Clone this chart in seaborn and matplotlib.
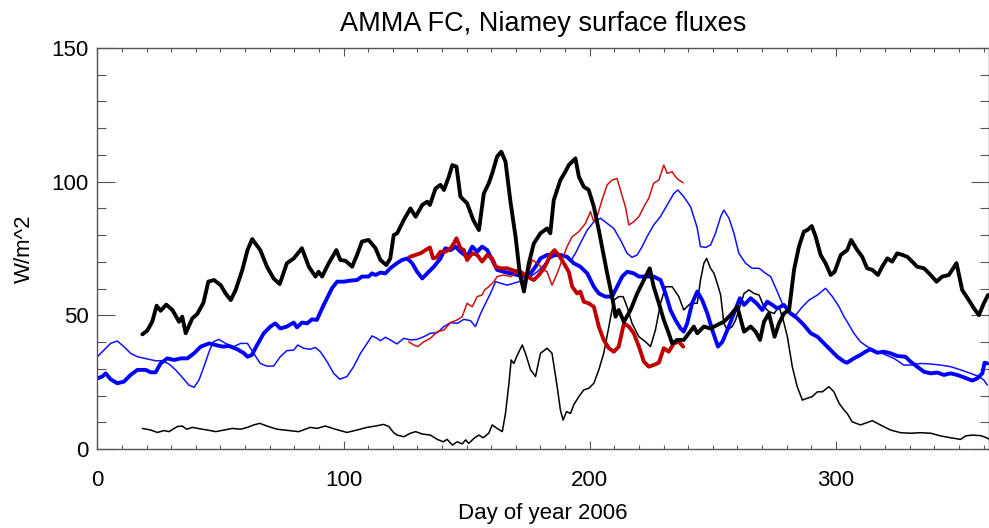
import matplotlib
matplotlib.use("Agg")
import matplotlib.pyplot as plt
from matplotlib.ticker import MultipleLocator
import seaborn as sns

# ---- series: (day of year, flux in W/m^2) ----
thick_black_day = [18.3, 20.3, 22.3, 24.1, 25.7, 28.0, 30.5, 33.2, 34.5, 35.9, 38.6, 40.6, 43.1, 45.1, 47.4,
                   50.1, 52.1, 54.2, 56.2, 58.9, 61.0, 62.9, 66.2, 68.9, 71.6, 74.1, 77.0, 79.8, 83.1, 85.9,
                   88.6, 89.9, 91.3, 94.0, 97.1, 98.7, 100.8, 103.5, 105.5, 107.5, 110.2, 113.0, 115.0, 117.4,
                   119.0, 120.4, 121.8, 124.5, 127.2, 129.3, 132.0, 134.0, 135.1, 137.4, 139.4, 140.8, 142.8,
                   144.2, 145.9, 147.5, 150.2, 152.7, 155.0, 157.0, 159.0, 160.4, 162.4, 164.1, 165.8, 167.9,
                   169.9, 171.6, 173.3, 175.3, 177.3, 180.0, 182.7, 184.0, 185.4, 188.1, 190.1, 191.5, 194.2,
                   195.6, 197.6, 199.6, 201.7, 203.7, 205.0, 207.1, 209.1, 210.5, 211.8, 213.9, 216.6, 219.3,
                   222.0, 224.4, 226.0, 228.1, 230.1, 232.1, 233.5, 235.5, 238.2, 240.3, 242.3, 243.7, 246.4,
                   249.1, 251.8, 254.5, 257.2, 260.0, 262.7, 265.4, 267.4, 269.2, 270.8, 272.8, 275.1, 276.9,
                   278.9, 281.0, 283.0, 285.0, 287.0, 288.4, 290.2, 291.8, 293.8, 295.8, 297.9, 299.5, 302.0,
                   304.6, 306.2, 308.7, 310.7, 312.7, 314.8, 317.1, 318.8, 320.9, 322.9, 324.9, 327.0, 329.0,
                   331.0, 333.0, 335.8, 338.5, 340.9, 343.2, 345.9, 349.0, 351.3, 354.0, 356.1, 358.1, 360.1,
                   361.8]
thick_black_val = [42.9, 44.3, 47.6, 53.6, 51.7, 54.0, 52.0, 47.6, 49.5, 43.3, 48.9, 50.5, 54.7, 62.6, 63.2,
                   61.3, 58.2, 55.7, 59.5, 67.0, 74.4, 78.5, 74.4, 68.2, 63.8, 61.7, 69.5, 71.3, 75.1, 68.2,
                   64.5, 66.3, 64.5, 69.5, 74.4, 70.7, 70.4, 68.2, 72.6, 77.6, 78.2, 75.1, 70.7, 68.8,
                   71.3, 80.0, 80.7, 85.7, 90.0, 86.9, 91.3, 92.5, 91.3, 97.5, 98.8, 96.9, 101.9,
                   106.2, 105.6, 94.4, 91.9, 85.7, 81.9, 95.6, 99.4, 103.1, 109.4, 111.2, 107.5, 91.9,
                   79.4, 65.7, 58.9, 69.5, 76.9, 80.7, 82.5, 80.7, 93.1, 100.6, 103.7, 106.2, 108.7,
                   101.9, 98.1, 96.9, 90.6, 81.9, 75.7, 65.7, 57.0, 49.5, 52.0, 47.6, 52.0, 58.2,
                   63.2, 67.6, 60.7, 54.5, 48.3, 43.3, 39.5, 40.8, 40.8, 43.3, 45.8, 43.3, 45.8,
                   45.1, 46.4, 47.6, 50.1, 53.2, 43.9, 45.8, 43.9, 40.8, 47.6, 50.7, 42.0, 47.0,
                   50.7, 52.0, 67.0, 75.7, 81.3, 81.9, 83.4, 79.4, 72.6, 69.5, 65.1, 66.3, 72.6,
                   74.4, 78.2, 74.4, 71.9, 67.6, 67.0, 65.1, 68.2, 71.3, 70.1, 73.2, 72.6, 71.9,
                   70.1, 68.2, 67.6, 65.1, 62.6, 64.5, 65.1, 69.5, 59.5, 55.7, 52.6, 50.1, 54.5,
                   57.6]

thin_black_day = [18.3, 21.7, 24.4, 27.1, 29.1, 32.5, 34.5, 36.3, 38.6, 42.0, 44.7, 48.1, 51.5, 54.9, 58.2,
                  61.0, 63.5, 66.0, 68.9, 73.0, 77.7, 81.8, 86.5, 89.2, 92.6, 96.7, 101.4, 105.5, 109.6,
                  113.0, 116.3, 118.4, 120.4, 121.8, 124.5, 127.2, 129.3, 132.0, 135.3, 138.1, 140.5, 142.1,
                  144.2, 146.2, 148.2, 149.6, 150.9, 153.0, 155.0, 156.7, 159.0, 160.4, 162.4, 164.5, 165.8,
                  167.2, 168.1, 169.2, 170.3, 172.6, 173.9, 176.0, 178.0, 180.0, 182.7, 184.7, 186.8, 188.1,
                  189.2, 190.6, 192.2, 193.5, 195.6, 197.6, 199.6, 201.7, 203.7, 205.7, 207.8, 209.8, 211.8,
                  213.6, 215.2, 217.2, 220.0, 222.7, 224.7, 226.7, 228.8, 230.8, 233.5, 236.2, 238.2, 241.0,
                  243.7, 245.0, 246.4, 247.5, 249.1, 250.5, 251.8, 253.2, 254.5, 255.9, 257.9, 259.3, 261.0,
                  262.7, 264.7, 266.7, 268.8, 270.8, 272.8, 274.9, 276.9, 278.6, 280.3, 282.3, 284.3, 286.4,
                  288.4, 290.4, 292.5, 294.5, 297.2, 299.2, 301.3, 303.3, 304.6, 306.6, 310.0, 312.7, 314.8,
                  318.1, 322.2, 326.3, 330.3, 334.4, 338.5, 342.5, 346.6, 350.7, 352.7, 355.4, 358.8, 360.8,
                  362.2]
thin_black_val = [7.7, 7.1, 6.2, 6.9, 6.5, 8.4, 8.6, 7.4, 8.1, 7.5, 7.1, 6.5, 7.1, 7.7, 7.4,
                  8.1, 9.0, 9.6, 8.6, 7.4, 6.9, 6.5, 8.1, 7.7, 8.6, 7.4, 6.2, 7.1, 8.1,
                  8.6, 9.2, 8.4, 6.1, 5.2, 4.6, 5.9, 6.5, 5.6, 5.2, 3.6, 2.7, 3.6,
                  1.5, 2.7, 1.9, 3.4, 2.1, 4.0, 5.2, 4.2, 5.9, 9.0, 7.7, 6.5, 13.3,
                  24.6, 33.3, 32.0, 34.5, 38.9, 35.8, 29.6, 27.1, 35.8, 37.7, 35.8, 23.3, 14.6,
                  10.8, 14.0, 13.3, 16.5, 19.6, 22.1, 22.7, 24.6, 29.6, 35.8, 45.8, 55.7, 57.0,
                  57.0, 53.2, 47.0, 42.0, 40.1, 38.3, 44.5, 54.5, 60.7, 60.7, 57.0, 52.0, 54.5,
                  54.5, 63.2, 69.5, 71.3, 67.6, 65.7, 62.0, 57.6, 47.0, 44.5, 45.8, 48.3, 53.2,
                  58.2, 59.5, 58.2, 57.6, 53.2, 51.4, 50.7, 53.2, 48.3, 42.0, 30.8, 23.3, 18.3,
                  19.0, 19.6, 21.4, 21.4, 23.3, 21.4, 17.1, 14.6, 13.3, 10.2, 9.0, 9.9, 10.6,
                  9.0, 7.1, 6.1, 5.9, 6.1, 5.9, 4.9, 4.2, 3.6, 4.9, 5.2, 5.0, 4.4,
                  3.7]

thick_blue_day = [0.0, 2.0, 3.4, 5.4, 8.1, 10.8, 13.5, 16.3, 19.6, 21.7, 23.7, 25.7, 28.4, 31.2, 33.9,
                  36.6, 39.3, 42.0, 45.4, 48.1, 50.8, 53.5, 56.9, 59.6, 61.0, 62.8, 64.9, 67.6, 70.3, 72.3,
                  74.3, 77.0, 79.8, 81.1, 83.1, 85.2, 87.2, 89.2, 91.3, 93.3, 95.3, 97.4, 100.1, 102.8,
                  105.5, 107.5, 110.2, 111.6, 113.0, 115.0, 117.0, 119.0, 121.7, 123.8, 125.9, 127.9, 129.9,
                  132.0, 134.0, 136.7, 139.4, 141.4, 143.5, 145.5, 147.5, 150.2, 152.3, 154.3, 156.3, 158.4,
                  160.4, 162.4, 165.1, 167.9, 170.6, 173.3, 176.0, 178.0, 180.0, 182.7, 185.4, 188.1, 190.8,
                  193.5, 196.2, 199.0, 201.7, 203.7, 206.4, 209.1, 211.1, 213.2, 215.2, 217.9, 220.0, 222.7,
                  226.0, 228.8, 230.8, 232.8, 234.8, 236.9, 238.2, 239.6, 241.6, 243.7, 245.7, 247.8, 249.8,
                  252.1, 253.9, 255.9, 258.6, 261.0, 262.7, 265.4, 267.8, 270.1, 272.1, 274.2, 276.2, 278.9,
                  281.6, 284.3, 287.0, 289.8, 292.5, 295.2, 297.9, 300.6, 303.3, 304.6, 307.3, 310.0, 312.0,
                  314.1, 316.8, 319.5, 322.2, 324.9, 328.3, 330.3, 333.0, 335.8, 338.5, 341.2, 343.9, 346.6,
                  349.3, 352.0, 355.4, 357.4, 359.5, 360.4, 361.5]
thick_blue_val = [26.4, 27.1, 28.3, 26.1, 24.6, 25.2, 27.7, 29.6, 29.6, 28.7, 28.7, 32.0, 33.9, 33.3, 33.9,
                  33.9, 35.8, 38.3, 39.5, 38.9, 38.3, 38.5, 37.3, 35.8, 34.5, 35.2, 38.9, 43.3, 45.8, 47.0,
                  45.1, 45.8, 47.3, 45.5, 47.3, 47.0, 48.5, 48.3, 52.6, 56.4, 60.1, 62.6, 62.6, 63.0,
                  63.2, 64.5, 64.5, 65.7, 65.1, 66.0, 65.7, 67.6, 69.5, 70.7, 71.3, 69.5, 66.3,
                  63.8, 65.7, 68.2, 71.3, 75.1, 74.4, 75.7, 73.8, 71.9, 75.7, 73.8, 75.7, 74.4,
                  70.7, 67.0, 66.3, 65.7, 65.1, 64.5, 65.7, 68.2, 71.3, 72.6, 72.6, 72.6, 71.9,
                  69.5, 68.2, 65.7, 60.7, 58.2, 57.0, 57.0, 60.7, 64.5, 66.3, 65.7, 64.5, 64.5,
                  64.5, 63.2, 58.2, 52.0, 48.3, 45.1, 43.9, 47.0, 54.5, 58.9, 55.7, 50.7, 44.5,
                  38.3, 40.1, 44.5, 50.7, 56.4, 53.9, 56.4, 54.5, 52.0, 55.1, 53.9, 52.6, 53.9,
                  50.7, 48.9, 46.4, 43.3, 42.0, 39.5, 37.0, 34.5, 32.7, 32.3, 33.9, 35.2, 36.4,
                  37.3, 36.0, 36.4, 35.8, 34.8, 34.5, 32.7, 30.8, 28.9, 28.3, 28.6, 27.7, 28.3,
                  27.7, 26.8, 25.6, 26.4, 28.3, 32.3, 32.0]

thin_blue_day = [0.0, 2.7, 5.4, 8.1, 10.8, 13.5, 16.3, 20.3, 23.7, 26.4, 29.1, 31.8, 34.5, 37.2, 39.3,
                 41.3, 43.3, 45.4, 47.1, 49.4, 52.1, 55.5, 58.2, 61.0, 63.5, 66.2, 68.9, 71.6, 74.3, 77.0,
                 79.8, 81.4, 83.8, 86.5, 88.6, 90.6, 93.3, 96.0, 98.5, 101.4, 104.1, 106.9, 109.6, 111.6,
                 113.6, 115.0, 117.0, 119.0, 121.7, 124.5, 127.2, 129.9, 132.6, 135.3, 138.1, 140.8, 143.5,
                 146.2, 148.9, 151.6, 153.6, 155.7, 157.7, 159.7, 161.8, 163.8, 166.5, 169.9, 173.3, 176.0,
                 178.7, 181.4, 182.7, 185.4, 188.1, 190.1, 192.2, 194.2, 196.2, 199.0, 201.7, 204.4, 207.1,
                 209.8, 212.5, 215.2, 217.2, 219.3, 221.3, 223.3, 226.0, 228.7, 231.5, 234.2, 235.8, 238.2,
                 241.0, 243.6, 245.0, 247.1, 249.1, 251.1, 253.2, 254.5, 256.6, 258.6, 260.6, 263.3, 266.0,
                 268.8, 271.5, 273.5, 276.2, 278.2, 281.0, 283.7, 286.4, 289.1, 292.5, 295.8, 298.6, 301.3,
                 303.3, 304.6, 307.3, 310.0, 312.7, 315.4, 319.5, 323.6, 327.6, 330.3, 334.4, 338.5, 342.5,
                 346.6, 350.7, 354.7, 358.1, 360.1, 361.5]
thin_blue_val = [34.5, 37.0, 39.5, 40.4, 38.3, 35.8, 34.5, 33.7, 33.0, 33.0, 31.8, 29.6, 26.8, 23.9, 23.1,
                 25.8, 30.8, 36.4, 40.1, 41.0, 39.5, 38.3, 39.5, 39.5, 35.8, 32.0, 31.0, 31.0, 34.5, 36.8,
                 37.0, 38.9, 37.7, 37.3, 38.0, 36.4, 32.7, 28.3, 26.1, 27.1, 30.8, 35.8, 39.5, 42.3,
                 41.4, 40.5, 41.8, 40.8, 39.3, 41.4, 40.8, 41.0, 42.0, 43.3, 43.5, 45.8, 47.3,
                 47.0, 48.5, 48.0, 45.8, 50.7, 54.5, 58.2, 62.6, 62.0, 61.3, 62.2, 63.2, 64.5,
                 66.3, 68.8, 70.5, 71.9, 72.6, 71.9, 70.1, 73.2, 76.9, 81.9, 85.0, 86.3, 84.4,
                 82.5, 78.2, 73.2, 71.7, 72.6, 75.7, 79.4, 83.8, 86.9, 91.3, 95.6, 96.9, 94.4,
                 90.6, 83.0, 75.7, 75.4, 76.3, 80.7, 86.9, 89.4, 86.3, 80.7, 73.2, 69.5, 67.6,
                 67.6, 65.7, 64.5, 58.9, 54.5, 51.4, 50.1, 53.2, 55.7, 57.6, 60.1, 57.0, 53.2,
                 49.5, 47.6, 43.3, 40.1, 38.3, 37.0, 35.5, 33.9, 31.4, 31.4, 32.0, 31.8, 31.4,
                 30.8, 29.6, 28.3, 27.1, 25.8, 23.9]

thick_red_day = [127.0, 129.3, 131.3, 133.3, 135.1, 136.4, 137.8, 139.4, 141.4, 143.5, 144.8, 145.9, 147.5,
                 148.9, 150.2, 152.3, 154.3, 156.3, 158.4, 160.4, 161.8, 163.8, 166.5, 169.2, 171.9, 174.6,
                 177.3, 179.4, 181.4, 182.7, 184.0, 185.7, 187.4, 189.5, 191.5, 192.9, 194.9, 196.2, 197.6,
                 199.6, 201.7, 203.7, 205.7, 207.8, 209.8, 211.8, 213.9, 215.9, 217.9, 220.0, 222.0, 224.0,
                 226.0, 228.1, 230.1, 232.1, 234.2, 236.2, 238.0]
thick_red_val = [71.9, 72.6, 73.2, 74.4, 75.4, 71.3, 71.7, 73.8, 73.8, 75.1, 76.9, 78.8, 75.1,
                 74.4, 70.7, 73.2, 72.6, 70.1, 72.6, 71.3, 68.2, 67.6, 67.6, 66.7, 66.3, 64.5,
                 63.2, 65.1, 67.6, 69.8, 72.6, 74.4, 72.6, 69.5, 66.3, 60.7, 58.2, 58.9, 55.1,
                 54.5, 53.2, 45.8, 40.8, 37.7, 36.4, 38.3, 47.0, 45.8, 43.3, 38.3, 32.7, 30.8,
                 31.4, 32.3, 37.7, 36.4, 39.5, 40.1, 38.3]

thin_red_day = [126.5, 128.6, 130.2, 132.6, 135.3, 138.1, 140.8, 143.5, 146.2, 148.2, 150.2, 152.3, 154.3,
                156.3, 157.3, 159.0, 161.1, 162.4, 165.1, 167.9, 169.9, 172.2, 174.6, 176.7, 178.7, 181.4,
                182.7, 184.7, 186.8, 188.8, 190.8, 192.9, 195.6, 198.3, 200.3, 201.7, 203.0, 205.0, 207.1,
                209.1, 211.1, 212.5, 214.5, 215.9, 217.9, 220.0, 222.0, 224.0, 226.0, 228.1, 230.1, 231.5,
                233.5, 234.8, 236.2, 238.0]
thin_red_val = [40.1, 38.9, 38.3, 40.1, 41.4, 43.9, 44.5, 47.3, 48.3, 49.5, 54.5, 53.2, 57.0,
                57.6, 59.5, 60.7, 62.6, 64.5, 65.1, 64.5, 65.7, 66.3, 64.5, 70.7, 69.5, 67.0,
                66.3, 61.3, 65.7, 70.7, 75.7, 79.4, 81.3, 84.4, 88.8, 85.0, 86.9, 93.1, 98.8,
                100.6, 101.2, 96.9, 90.6, 83.8, 85.0, 86.9, 90.6, 93.8, 99.4, 100.6, 106.2, 103.1,
                103.7, 101.9, 100.6, 99.6]

x_ticks = [0, 100, 200, 300]
y_ticks = [0, 50, 100, 150]

sns.set_theme(style="white")
plt.rcParams["font.family"] = ["Liberation Sans", "DejaVu Sans"]
plt.rcParams["text.color"] = "black"
plt.rcParams["axes.labelcolor"] = "black"

fig = plt.figure(figsize=(9.89, 5.28), dpi=100)
ax = fig.add_axes([0.0984, 0.1496, 0.9011, 0.7595])

lines = [
    (thin_black_day, thin_black_val, "black", 1.1),
    (thin_blue_day, thin_blue_val, "#1010ff", 1.1),
    (thick_blue_day, thick_blue_val, "#0000ff", 2.8),
    (thin_red_day, thin_red_val, "#cc1111", 1.1),
    (thick_red_day, thick_red_val, "#c00000", 2.8),
    (thick_black_day, thick_black_val, "black", 2.8),
]
for xs, ys, col, lw in lines:
    sns.lineplot(x=xs, y=ys, ax=ax, color=col, linewidth=lw, sort=False,
                 estimator=None, legend=False)

ax.set_xlim(0, 362)
ax.set_ylim(0, 150)
ax.set_xticks(x_ticks)
ax.set_yticks(y_ticks)
ax.xaxis.set_minor_locator(MultipleLocator(10))
ax.yaxis.set_minor_locator(MultipleLocator(10))
ax.tick_params(axis="x", which="major", direction="in", length=6, width=0.8,
               top=True, bottom=True, labelsize=16, pad=15, colors="#555555",
               labelcolor="black")
ax.tick_params(axis="x", which="minor", direction="in", length=3, width=0.8,
               top=True, bottom=True, colors="#555555")
ax.tick_params(axis="y", which="major", direction="in", length=13, width=0.8,
               left=True, right=True, labelsize=16, pad=6, colors="#555555",
               labelcolor="black")
ax.tick_params(axis="y", which="minor", direction="in", length=6.5, width=0.8,
               left=True, right=True, colors="#555555")
for s in ax.spines.values():
    s.set_color("#555555")
    s.set_linewidth(1.0)

ax.set_title("AMMA FC, Niamey surface fluxes", fontsize=19.5, pad=12, color="black")
ax.set_xlabel("Day of year 2006", fontsize=16, labelpad=9)
ax.set_ylabel("W/m^2", fontsize=16, labelpad=12)

fig.savefig("out.png", dpi=100)
